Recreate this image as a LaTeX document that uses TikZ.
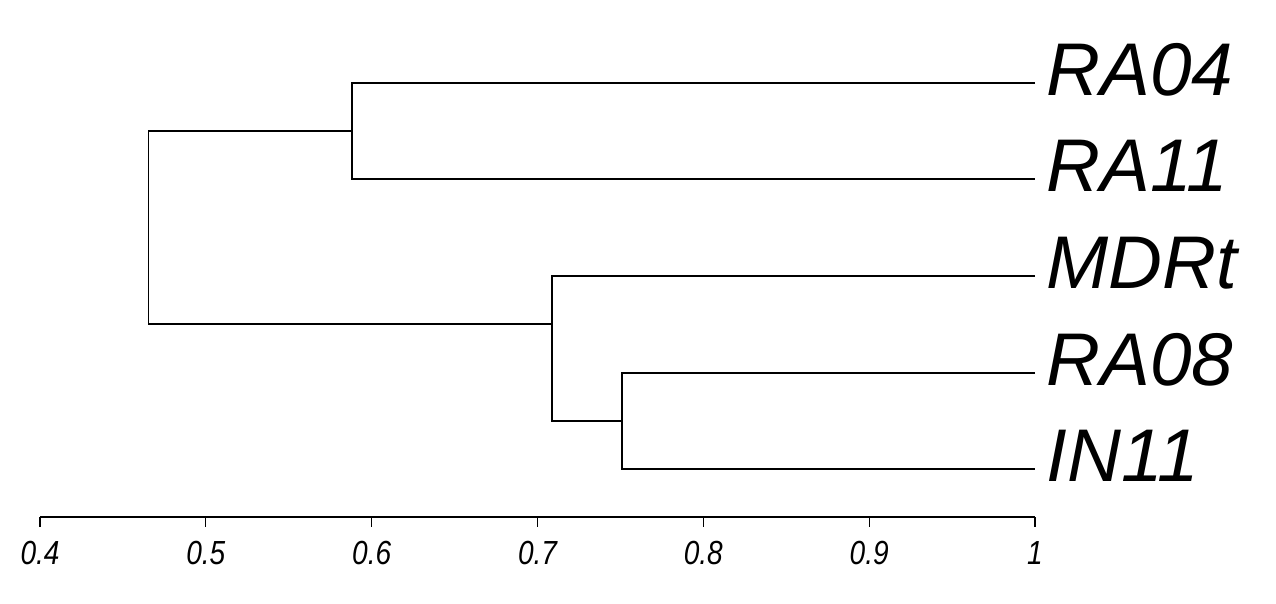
\documentclass[tikz,border=0pt]{standalone}
\usepackage{fontspec}
\setmainfont{Liberation Sans}
\usepackage{tikz}
\usetikzlibrary{positioning, calc}
\tikzset{
    % thin black lines of the tree
    branch/.style={
        line width=0.6pt,
        black
    },
    leaf label/.style={
        anchor=base west,
        inner sep=0pt,
        font=\fontsize{42.5}{50}\selectfont\itshape
    },
    tick label/.style={
        anchor=base,
        inner sep=0pt,
        font=\fontsize{19}{23}\selectfont\itshape
    }
}

\begin{document}
\begin{tikzpicture}[x=0.02cm, y=-0.02cm]
        \useasboundingbox (0,0) rectangle (1276,603);

        % Leaf ends
        \coordinate (endRA04) at (1035, 83);
        \coordinate (endRA11) at (1035, 179);
        \coordinate (endMDRt) at (1035, 276);
        \coordinate (endRA08) at (1035, 373);
        \coordinate (endIN11) at (1035, 469);

        % Leaf labels
        \node[leaf label] (RA04) at (1046, 95) {RA04};
        \node[leaf label] (RA11) at (1046, 191) {RA11};
        \node[leaf label] (MDRt) at (1046, 288) {MDRt};
        \node[leaf label] (RA08) at (1046, 385) {RA08};
        \node[leaf label] (IN11) at (1046, 481) {IN11};

        % Joins
        \coordinate (joinRA) at (352, 131);
        \coordinate (joinIN) at (622, 421);
        \coordinate (joinMD) at (552, 324);
        \coordinate (root) at (148.5, 227.5);

        % Branches
        \draw[branch] (endRA04) -| (joinRA) |- (endRA11);
        \draw[branch] (endRA08) -| (joinIN) |- (endIN11);
        \draw[branch] (endMDRt) -| (joinMD) |- (joinIN);
        \draw[branch] (joinRA) -| (root) |- (joinMD);

        % Axis
        \coordinate (axisL) at (40, 517);
        \coordinate (axisR) at (1035, 517);
        \draw[branch] (axisL) -- (axisR);
        \foreach \i/\lab in {0/0.4, 1/0.5, 2/0.6, 3/0.7, 4/0.8, 5/0.9, 6/1} {
            \draw[branch] ($(axisL)+(\i*165.83, 0)$) -- ++(0, 10);
            \node[tick label] (tick\i) at ($(axisL)+(\i*165.83, 47.5)$) {\scalebox{0.84}[1]{\lab}};
        }
    \end{tikzpicture}
\end{document}
